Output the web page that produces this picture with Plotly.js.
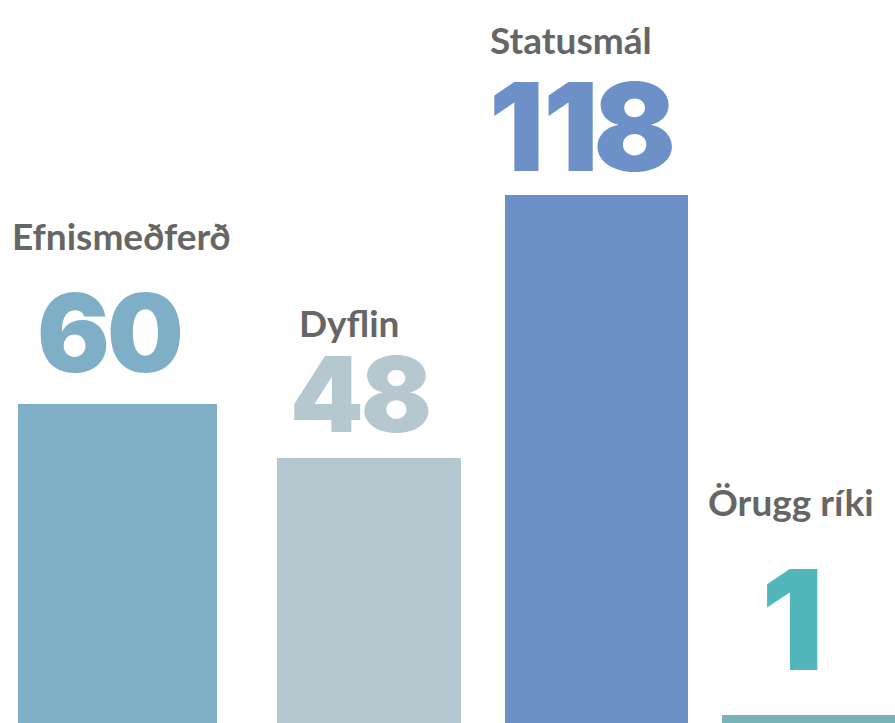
<!DOCTYPE html>
<html>
<head>
<meta charset="utf-8">
<script src="https://cdn.plot.ly/plotly-3.0.1.min.js"></script>
<style>html,body{margin:0;padding:0;background:#fff;}#chart{width:895px;height:723px;}</style>
</head>
<body>
<div id="chart"></div>
<script>
// Data
const categories = ["Efnismeðferð", "Dyflin", "Statusmál", "Örugg ríki"];
const values = [60, 48, 118, 1];
// Displayed bar heights (infographic, not linear to values)
const barHeights = [319, 265, 528, 8];

// Layout / style constants (not data)
const barLeft = [18, 277, 505, 722];
const barRight = [217, 461, 688, 905];
const barColors = ["#7fafc7", "#b5c7cf", "#6d90c8", "#77b3b8"];
const numColors = ["#7fafc7", "#b5c7cf", "#6d90c8", "#52b6bb"];
const labelX = [121, 349, 571, 791];
const labelY = [488, 401, 684, 222];
const numX = [110, 361, 582, 792];
const numY = [391, 330, 597, 104];
const numSize = [108, 105, 122, 139];

// tighten spacing of digits (per-character letter-spacing, px)
function digitText(v) {
  const s = String(v);
  if (s === "118") {
    return "<span style='letter-spacing:-1px'>1</span><span style='letter-spacing:-5px'>1</span>8";
  }
  if (s.length > 1) {
    return "<span style='letter-spacing:-3px'>" + s.slice(0, -1) + "</span>" + s.slice(-1);
  }
  return s;
}

const centers = barLeft.map((l, i) => (l + barRight[i]) / 2);
const widths = barLeft.map((l, i) => barRight[i] - l);

const trace = {
  type: "bar",
  x: centers,
  y: barHeights,
  width: widths,
  marker: {color: barColors, line: {width: 0}},
  hoverinfo: "skip",
  textposition: "none"
};

const annotations = [];
categories.forEach((c, i) => {
  annotations.push({
    x: labelX[i], y: labelY[i], xref: "x", yref: "y",
    text: c, showarrow: false, xanchor: "center", yanchor: "middle",
    font: {family: "Lato", size: 37, color: "#666666", weight: 700}
  });
  annotations.push({
    x: numX[i], y: numY[i], xref: "x", yref: "y",
    text: digitText(values[i]), showarrow: false, xanchor: "center", yanchor: "middle",
    font: {family: "Inter", size: numSize[i], color: numColors[i], weight: 900}
  });
});

const layout = {
  width: 895, height: 723,
  margin: {l: 0, r: 0, t: 0, b: 0, pad: 0},
  paper_bgcolor: "#ffffff", plot_bgcolor: "#ffffff",
  showlegend: false,
  xaxis: {range: [0, 895], visible: false, fixedrange: true},
  yaxis: {range: [0, 723], visible: false, fixedrange: true},
  annotations: annotations
};

Plotly.newPlot("chart", [trace], layout, {staticPlot: true, displayModeBar: false});
</script>
</body>
</html>
